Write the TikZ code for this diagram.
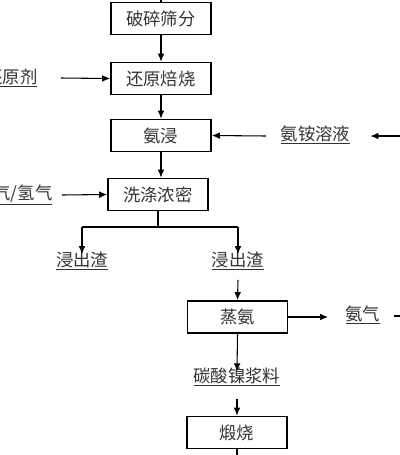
\documentclass[tikz,border=0pt]{standalone}
\usepackage{fontspec}
\newfontfamily\cjk{Noto Sans CJK SC}
\usetikzlibrary{arrows.meta}
\begin{document}
\begin{tikzpicture}[x=0.75pt,y=-0.75pt,
  box/.style={draw, line width=1.3pt, minimum width=75pt, minimum height=24pt, inner sep=0pt, font=\cjk\fontsize{13}{15}\selectfont, text=black!80},
  lbl/.style={inner sep=1pt, font=\cjk\fontsize{13}{15}\selectfont, text=black!80},
  arr/.style={-{Latex[length=6pt,width=5pt]}, line width=0.8pt},
  ln/.style={line width=0.8pt}]
\useasboundingbox (0,0) rectangle (400,455);
\clip (0,0) rectangle (400,455);
% boxes
\node[box] (b1) at (161,18.5) {破碎筛分};
\node[box] (b2) at (161,78.5) {还原焙烧};
\node[box] (b3) at (161,135.5) {氨浸};
\node[box] (b4) at (158,194.5) {洗涤浓密};
\node[box] (b5) at (237.5,317) {蒸氨};
\node[box] (b6) at (237,432.5) {煅烧};
% labels
\node[lbl, anchor=east] (t1) at (39,78) {\underline{还原剂}};
\node[lbl, anchor=east] (t2) at (54,195) {\underline{氮气/氢气}};
\node[lbl] (t3) at (315.5,135) {\underline{氨铵溶液}};
\node[lbl] (t4) at (82,261) {\underline{浸出渣}};
\node[lbl] (t5) at (238,261) {\underline{浸出渣}};
\node[lbl] (t6) at (363,315) {\underline{氨气}};
\node[lbl] (t7) at (237,377) {\underline{碳酸镍浆料}};
% coordinates
\coordinate (top) at (161,-5);
\coordinate (split) at (158,227);
\coordinate (sl) at (82,227);
\coordinate (sr) at (238,227);
\coordinate (inR) at (410,136);
\coordinate (outR) at (420,316);
\coordinate (bot) at (237,465);
% connectors
\draw[ln] (top) -- (b1.north);
\draw[arr] (b1) -- (b2);
\draw[arr] (b2) -- (b3);
\draw[arr] (b3.south) -- (b3.south |- b4.north);
\draw[arr] (t1.east) ++(22,0) -- (b2.west);
\draw[arr] (t2.east) ++(8,0) -- (b4.west);
\draw[arr] (t3.west) ++(-13,1) -- (b3.east);
\draw[arr] (inR) -- ([xshift=14pt]t3.east |- inR);
\draw[ln] (b4.south) -- (split);
\draw[ln] (sl) -- (sr);
\draw[arr] (sl) -- ([yshift=-3pt]t4.north);
\draw[arr] (sr) -- ([yshift=-3pt]t5.north);
\draw[arr] ([yshift=-6pt]t5.south) -- (b5.north);
\draw[arr] (b5.east) -- ([xshift=-12pt]t6.west |- b5.east);
\draw[arr] ([xshift=9pt]t6.east |- outR) -- (outR);
\draw[arr] (b5.south) -- ([yshift=-4pt]t7.north);
\draw[arr] ([yshift=-8pt]t7.south) -- (b6.north);
\draw[ln] (b6.south) -- (bot);
\end{tikzpicture}
\end{document}
